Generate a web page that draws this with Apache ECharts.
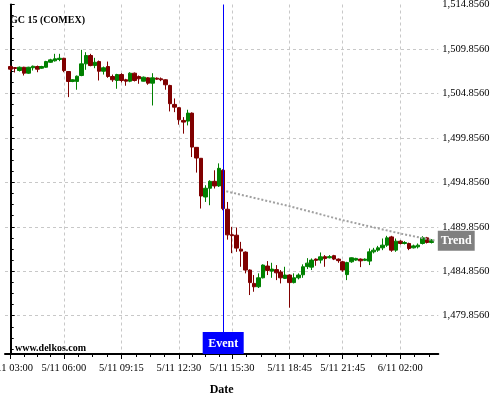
<!DOCTYPE html>
<html><head><meta charset="utf-8">
<script src="https://cdn.jsdelivr.net/npm/echarts@6/dist/echarts.min.js"></script>
<style>html,body{margin:0;padding:0;background:#fff}#c{width:500px;height:400px}</style>
</head><body><div id="c"></div>
<script>
const chartTitle = 'GC 15 (COMEX)';
const watermark = 'www.delkos.com';
const xName = 'Date';
const eventIndex = 48;
const eventLabel = 'Event';
const trendLabel = 'Trend';

const open = [
1507.88,1507.77,1507.43,1507.80,1507.13,1507.74,1507.88,1507.69,1507.80,1508.36,
1508.52,1508.67,1508.81,1507.32,1506.20,1506.20,1506.87,1508.18,1509.12,1507.99,
1508.44,1507.35,1507.88,1506.76,1506.31,1506.98,1506.39,1506.23,1507.13,1506.76,
1506.23,1506.61,1506.01,1506.57,1506.50,1506.39,1505.75,1503.62,1503.25,1501.82,
1501.74,1502.64,1498.79,1497.56,1493.21,1494.19,1494.97,1494.45,1496.21,1491.83,
1488.97,1488.91,1487.34,1487.01,1484.99,1483.49,1483.11,1484.12,1485.44,1484.87,
1485.04,1484.76,1484.05,1484.43,1483.58,1484.12,1484.46,1485.38,1485.32,1486.22,
1486.11,1486.50,1486.37,1486.61,1486.22,1485.92,1484.48,1485.92,1486.11,1486.22,
1486.08,1486.00,1487.04,1487.23,1487.49,1487.79,1488.72,1487.23,1488.24,1487.98,
1487.98,1487.49,1487.60,1487.98,1488.61,1488.09];
const close = [
1507.58,1507.66,1507.80,1507.13,1507.80,1507.91,1507.58,1507.88,1508.44,1508.63,
1508.75,1508.81,1507.43,1506.20,1506.39,1506.79,1508.18,1509.12,1507.99,1508.36,
1507.35,1507.74,1506.76,1506.39,1506.98,1506.31,1506.23,1507.13,1506.31,1506.50,
1506.68,1506.01,1506.61,1506.46,1506.39,1505.83,1503.70,1503.31,1501.90,1501.63,
1502.64,1498.82,1497.59,1493.32,1494.19,1494.97,1494.45,1496.43,1491.91,1488.95,
1488.86,1487.46,1487.12,1484.99,1483.58,1483.11,1484.12,1485.55,1484.95,1485.10,
1484.68,1484.12,1484.43,1483.58,1484.12,1484.43,1485.36,1485.77,1486.11,1486.08,
1486.48,1486.28,1486.50,1486.22,1486.05,1484.99,1485.83,1486.37,1486.30,1486.03,
1486.22,1487.04,1487.23,1487.49,1487.79,1488.61,1487.23,1488.24,1487.98,1488.09,
1487.42,1487.71,1487.79,1488.61,1488.09,1488.35];
const low = [
1507.24,1507.21,1507.32,1506.87,1507.06,1507.43,1507.24,1507.62,1507.74,1508.30,
1508.44,1508.48,1507.24,1504.44,1506.12,1505.27,1506.79,1507.51,1507.91,1507.69,
1506.31,1506.98,1506.61,1506.16,1505.38,1506.09,1505.72,1506.12,1506.20,1505.94,
1506.20,1505.83,1503.50,1506.39,1506.23,1505.27,1502.83,1502.75,1501.34,1500.33,
1501.26,1497.70,1495.95,1491.91,1492.65,1492.28,1494.16,1494.34,1491.72,1488.41,
1486.89,1487.04,1485.36,1484.62,1482.18,1482.55,1482.97,1484.05,1484.43,1484.12,
1483.86,1483.49,1483.98,1480.76,1483.49,1483.94,1484.12,1485.10,1484.99,1485.47,
1485.74,1485.36,1486.30,1486.11,1485.81,1484.80,1483.86,1485.81,1486.03,1485.32,
1486.00,1485.55,1486.86,1487.04,1487.23,1487.60,1487.04,1487.04,1487.87,1487.87,
1487.23,1487.42,1487.42,1487.87,1487.98,1487.98];
const high = [
1507.99,1507.82,1507.88,1507.85,1507.85,1507.99,1507.99,1507.96,1508.52,1508.75,
1509.31,1509.31,1508.86,1507.35,1506.46,1506.87,1509.76,1509.49,1509.31,1508.86,
1508.55,1507.88,1508.44,1506.98,1507.06,1507.13,1506.50,1507.24,1507.21,1506.87,
1506.76,1506.68,1507.13,1506.65,1506.65,1506.46,1505.83,1504.29,1503.31,1502.19,
1503.02,1502.72,1498.82,1497.59,1494.53,1495.09,1496.21,1496.99,1496.32,1492.65,
1489.85,1489.78,1488.16,1487.09,1485.07,1484.43,1484.62,1485.63,1486.00,1485.81,
1485.55,1484.99,1485.36,1484.50,1484.62,1484.62,1485.63,1486.33,1486.30,1486.30,
1486.97,1486.67,1486.67,1486.70,1486.30,1486.03,1485.92,1486.41,1486.37,1486.30,
1486.30,1487.42,1487.49,1487.71,1488.54,1488.84,1488.84,1488.54,1488.35,1488.24,
1488.07,1487.85,1487.98,1488.80,1488.72,1488.47];

// trend line (bar position, price)
const trendX = [48.7, 63, 75, 88, 95.8];
const trendY = [1493.85, 1492.17, 1490.60, 1489.10, 1488.30];

// 15-minute bars from 5/11 03:00; no bars 23:00-23:45
const categories = open.map(function (_, i) {
  const t = 180 + 15 * i + (i >= 80 ? 60 : 0);
  const day = t >= 1440 ? '6/11' : '5/11';
  const m = t % 1440;
  const hh = String(Math.floor(m / 60)).padStart(2, '0');
  const mm = String(m % 60).padStart(2, '0');
  return day + ' ' + hh + ':' + mm;
});
const tickLabels = ['5/11 03:00','5/11 06:00','5/11 09:15','5/11 12:30','5/11 15:30','5/11 18:45','5/11 21:45','6/11 02:00'];
const yTicks = [1479.856, 1484.856, 1489.856, 1494.856, 1499.856, 1504.856, 1509.856, 1514.856];
const yMin = 1475.55, yMax = 1514.856;
const xMin = -1.29, xMax = 96.59;

const xMajor = tickLabels.map(function (l) { return categories.indexOf(l); });
const xMinor = [];
for (let k = 0; k < xMajor.length; k++) {
  const a = xMajor[k];
  const step = (k < xMajor.length - 1 ? xMajor[k + 1] - a : xMajor[k] - xMajor[k - 1]) / 4;
  for (let j = 1; j <= 3; j++) { const v = a + step * j; if (v <= xMax) xMinor.push(v); }
}
const yMinor = [];
yTicks.forEach(function (t) { for (let j = 1; j <= 3; j++) { const v = t - 1.25 * j; if (v >= yMin) yMinor.push(v); } });

const FONT = "'Liberation Serif', 'Times New Roman', serif";
const fmtY = function (v) { return Number(v).toLocaleString('en-US', { minimumFractionDigits: 4, maximumFractionDigits: 4 }); };
const grid = '#c8c8c8';

const chart = echarts.init(document.getElementById('c'), null, { renderer: 'canvas' });
chart.setOption({
  animation: false,
  backgroundColor: '#fff',
  title: [
    { text: chartTitle, left: 10, top: 15, padding: 0, textStyle: { fontFamily: FONT, fontSize: 10, fontWeight: 'bold', color: '#000' } },
    { text: watermark, left: 15, top: 343, padding: 0, textStyle: { fontFamily: FONT, fontSize: 10, fontWeight: 'bold', color: '#000' } }
  ],
  grid: { left: 5, right: 61.7, top: 4.5, bottom: 46, containLabel: false, outerBoundsMode: 'none' },
  xAxis: [
    {
      type: 'value', min: xMin, max: xMax, position: 'bottom',
      name: xName, nameLocation: 'middle', nameGap: 30,
      nameTextStyle: { fontFamily: FONT, fontSize: 12, fontWeight: 'bold', color: '#000' },
      axisLine: { show: true, lineStyle: { color: '#000', width: 2 } },
      axisTick: { show: true, customValues: xMajor, length: 5, lineStyle: { color: '#000', width: 1 } },
      axisLabel: { customValues: xMajor, formatter: function (v) { return categories[Math.round(v)]; }, fontFamily: FONT, fontSize: 10.5, color: '#000', margin: 9, hideOverlap: false },
      splitLine: { show: true, lineStyle: { color: grid, type: [3, 3], width: 1 } }
    },
    {
      type: 'value', min: xMin, max: xMax, position: 'bottom',
      axisLine: { show: false },
      axisTick: { show: true, customValues: xMinor, length: 3, lineStyle: { color: '#000', width: 1 } },
      axisLabel: { show: false },
      splitLine: { show: false }
    }
  ],
  yAxis: [
    {
      type: 'value', min: yMin, max: yMax, position: 'right', scale: true,
      axisLine: { show: true, lineStyle: { color: '#000', width: 2 } },
      axisTick: { show: true, customValues: yTicks, length: 4, lineStyle: { color: '#000', width: 1 } },
      axisLabel: { customValues: yTicks, formatter: fmtY, fontFamily: FONT, fontSize: 10.5, color: '#000', margin: 4 },
      splitLine: { show: true, showMaxLine: false, lineStyle: { color: grid, type: [3, 3], width: 1 } }
    },
    {
      type: 'value', min: yMin, max: yMax, position: 'right', scale: true,
      axisLine: { show: false },
      axisTick: { show: true, customValues: yMinor, length: 3, lineStyle: { color: '#000', width: 1 } },
      axisLabel: { show: false },
      splitLine: { show: false }
    }
  ],
  series: [
    {
      type: 'candlestick', xAxisIndex: 0, yAxisIndex: 0,
      barWidth: 4,
      data: open.map(function (o, i) { return [i, o, close[i], low[i], high[i]]; }),
      itemStyle: { color: '#008000', color0: '#800000', borderColor: '#008000', borderColor0: '#800000', borderWidth: 1 },
      markLine: {
        silent: true, symbol: 'none', animation: false,
        lineStyle: { color: '#0000ff', width: 1, type: 'solid' },
        label: { show: false },
        data: [{ xAxis: eventIndex }]
      },
      markPoint: {
        silent: true, animation: false,
        data: [{
          coord: [eventIndex, yMin], symbol: 'rect', symbolSize: [41, 22], symbolOffset: [0, -11],
          itemStyle: { color: '#0000ff' },
          label: { show: true, position: 'inside', formatter: eventLabel, color: '#fff', fontFamily: FONT, fontSize: 12, fontWeight: 'bold', offset: [0, 1] }
        }]
      }
    },
    {
      type: 'line', xAxisIndex: 0, yAxisIndex: 0, silent: true,
      data: trendX.map(function (x, i) { return [x, trendY[i]]; }),
      symbol: 'none',
      lineStyle: { color: '#a0a0a0', width: 2, type: [2, 2] },
      endLabel: { show: true, formatter: trendLabel, color: '#fff', fontFamily: FONT, fontSize: 12, fontWeight: 'bold', backgroundColor: '#808080', padding: [4, 3, 4, 3], distance: 3 },
      z: 5
    }
  ]
});
</script>
</body></html>
